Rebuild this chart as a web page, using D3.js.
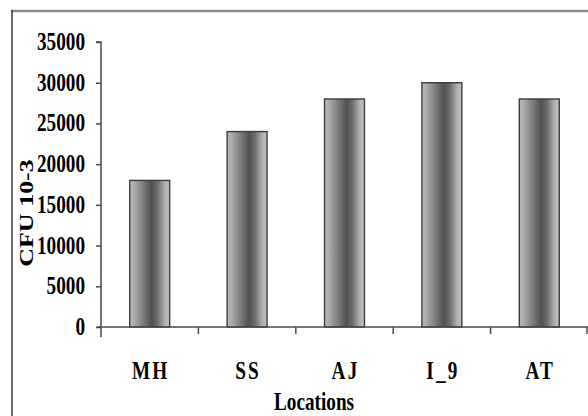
<!DOCTYPE html>
<html>
<head>
<meta charset="utf-8">
<script src="https://cdn.jsdelivr.net/npm/d3@7"></script>
<style>
html,body{margin:0;padding:0;background:#fff;}
svg{display:block;}
text{font-family:"Liberation Serif","Times New Roman",serif;font-weight:bold;fill:#000;}
</style>
</head>
<body>
<script>
const categories = ["MH", "SS", "AJ", "I_9", "AT"];
const values = [18000, 24000, 28000, 30000, 28000];
const yTicks = [0, 5000, 10000, 15000, 20000, 25000, 30000, 35000];
const xTitle = "Locations";
const yTitle = "CFU 10-3";

const W = 588, H = 416;
const svg = d3.select("body").append("svg").attr("width", W).attr("height", H);

const defs = svg.append("defs");
const grad = defs.append("linearGradient").attr("id", "barGrad")
  .attr("x1", "0").attr("x2", "1").attr("y1", "0").attr("y2", "0");
[[0, "#bcbcbc"], [0.12, "#aaaaaa"], [0.35, "#7a7a7a"], [0.55, "#505050"], [0.7, "#6e6e6e"], [0.88, "#b0b0b0"], [1, "#c2c2c2"]]
  .forEach(([o, c]) => grad.append("stop").attr("offset", o).attr("stop-color", c));

// outer frame
svg.append("line").attr("x1", 11).attr("x2", W).attr("y1", 11).attr("y2", 11)
  .attr("stroke", "#8c8c8c").attr("stroke-width", 2.5);
svg.append("line").attr("x1", 12).attr("x2", 12).attr("y1", 10).attr("y2", H)
  .attr("stroke", "#3a3a3a").attr("stroke-width", 1.5);

const x0 = 101, x1 = 588, yBottom = 327, yTop = 42;
const SX = 0.74, FS = 26;

const band = d3.scaleBand().domain(categories).range([x0, x1]).paddingInner(0.59).paddingOuter(0.295);
const cell = d3.scaleBand().domain(categories).range([x0, x1]).padding(0);
const y = d3.scaleLinear().domain([0, 35000]).range([yBottom, yTop]);

// bars
svg.append("g").selectAll("rect").data(values).join("rect")
  .attr("x", (d, i) => band(categories[i]))
  .attr("width", band.bandwidth())
  .attr("y", d => y(d))
  .attr("height", d => y(0) - y(d))
  .attr("fill", "url(#barGrad)")
  .attr("stroke", "#3c3c3c").attr("stroke-width", 1.4);

// y axis
const yAxis = svg.append("g").attr("transform", `translate(${x0},0)`)
  .call(d3.axisLeft(y).tickValues(yTicks).tickSize(5).tickFormat(""));
yAxis.select(".domain").attr("stroke", "#4a4a4a").attr("stroke-width", 1.5).attr("d", `M-5,${yTop}H0V${yBottom + 10}`);
yAxis.selectAll(".tick line").attr("stroke", "#4a4a4a").attr("stroke-width", 1.5);

svg.append("g").selectAll("g").data(yTicks).join("g")
  .attr("transform", d => `translate(85,${y(d) + 8}) scale(${SX},1)`)
  .append("text").attr("text-anchor", "end").attr("font-size", FS).text(d => d);

// x axis
const xg = svg.append("g");
xg.append("line").attr("x1", x0 - 4).attr("x2", x1).attr("y1", yBottom).attr("y2", yBottom)
  .attr("stroke", "#4a4a4a").attr("stroke-width", 1.5);
xg.selectAll("line.t").data(categories.slice(1).concat(["__end"])).join("line").attr("class", "t")
  .attr("x1", d => d === "__end" ? x1 - 1 : cell(d)).attr("x2", d => d === "__end" ? x1 - 1 : cell(d))
  .attr("y1", yBottom).attr("y2", yBottom + 7)
  .attr("stroke", "#4a4a4a").attr("stroke-width", 1.5);

svg.append("g").selectAll("g").data(categories).join("g")
  .attr("transform", d => `translate(${cell(d) + cell.bandwidth() / 2 + 1},379) scale(${SX},1)`)
  .append("text").attr("text-anchor", "middle").attr("font-size", FS).attr("letter-spacing", 3).text(d => d);

// titles
svg.append("g").attr("transform", `translate(314,410) scale(${SX},1)`)
  .append("text").attr("text-anchor", "middle").attr("font-size", FS).text(xTitle);
svg.append("g").attr("transform", `translate(33,213) scale(${SX},1) rotate(-90)`)
  .append("text").attr("text-anchor", "middle").attr("font-size", FS).text(yTitle);
</script>
</body>
</html>
